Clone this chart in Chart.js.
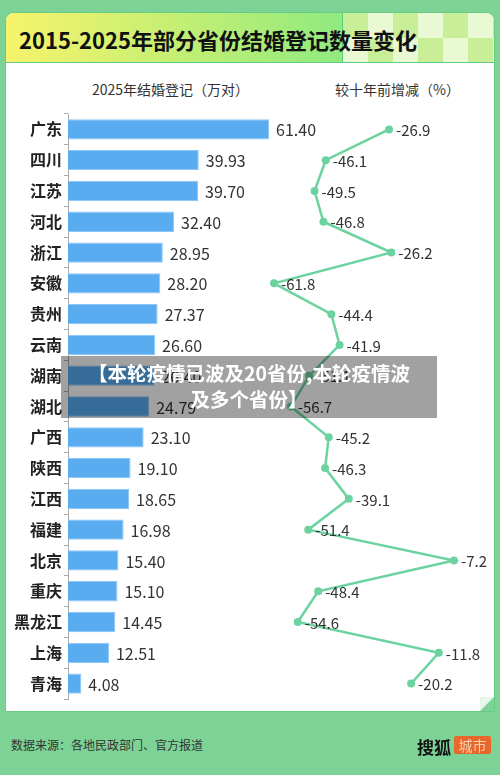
<!DOCTYPE html>
<html>
<head>
<meta charset="utf-8">
<script src="https://cdn.jsdelivr.net/npm/chart.js@4.4.1/dist/chart.umd.min.js"></script>
<style>
  html, body { margin:0; padding:0; }
  body { width:500px; height:775px; background:#7dd396; position:relative; overflow:hidden;
         font-family:"Noto Sans CJK SC","Noto Sans",sans-serif; }
  #card { position:absolute; left:5px; top:12px; width:488px; height:698px; background:#fff;
          border:1px solid #66cc82; border-radius:9px 9px 0 0; overflow:hidden; }
  #header { position:absolute; left:0; top:0; width:488px; height:49px;
            background:linear-gradient(90deg,#f7f36c 0%,#c4ef73 35%,#8eea80 70%,#62e38b 100%);
            border-bottom:1px solid #66cc82; }
  #checks { position:absolute; left:336px; top:0; width:152px; height:49px; border-left:1px solid #5ccf7e;
            background-color:#e9f9d4;
            background-image:
              linear-gradient(45deg,#c9ee98 25%,transparent 25%,transparent 75%,#c9ee98 75%),
              linear-gradient(45deg,#c9ee98 25%,transparent 25%,transparent 75%,#c9ee98 75%);
            background-size:50px 50px; background-position:25px 0, 50px 25px; }
  #title { position:absolute; left:13px; top:10px; font-size:22px; font-weight:bold; color:#111; letter-spacing:0; }
  .sub { position:absolute; top:79px; font-size:14px; color:#333; }
  #chartbox { position:absolute; left:0; top:100px; width:500px; height:612px; }
  #overlay { position:absolute; left:61px; top:356px; width:376px; height:62px; background:rgba(0,0,0,0.37);
             color:#fff; font-weight:bold; font-size:19.5px; line-height:26px; text-align:center; padding-top:4px; box-sizing:border-box; white-space:nowrap; }
  #fold { position:absolute; left:480px; top:697px; width:0; height:0;
          border-left:14px solid transparent; border-bottom:14px solid #7dd396; }
  #fold2 { position:absolute; left:480px; top:697px; width:0; height:0;
          border-right:14px solid transparent; border-top:14px solid #e6f6ea; }
  #source { position:absolute; left:11px; top:736px; font-size:12px; color:#333; }
  #sohu { position:absolute; left:417px; top:734px; font-size:17px; color:#111; font-weight:bold; font-family:"Noto Sans CJK SC",serif; }
  #city { position:absolute; left:454px; top:736px; width:37px; height:18px; background:#e8672a; border-radius:2px;
          color:#f6cfae; font-size:14px; line-height:18px; text-align:center; }
</style>
</head>
<body>
<div id="card">
  <div id="header"><div id="checks"></div><div id="title">2015-2025年部分省份结婚登记数量变化</div></div>
</div>
<div class="sub" style="left:92px;">2025年结婚登记（万对）</div>
<div class="sub" style="left:335px;">较十年前增减（%）</div>
<div id="chartbox"><canvas id="c" width="500" height="612"></canvas></div>
<div id="fold2"></div><div id="fold"></div>
<div id="overlay">【本轮疫情已波及20省份,本轮疫情波<br>及多个省份】</div>
<div id="source">数据来源：各地民政部门、官方报道</div>
<div id="sohu">搜狐</div>
<div id="city">城市</div>
<script>
const provinces = ["广东","四川","江苏","河北","浙江","安徽","贵州","云南","湖南","湖北","广西","陕西","江西","福建","北京","重庆","黑龙江","上海","青海"];
const marriages2025 = [61.40,39.93,39.70,32.40,28.95,28.20,27.37,26.60,26.40,24.79,23.10,19.10,18.65,16.98,15.40,15.10,14.45,12.51,4.08];
const changeVsTenYearsAgo = [-26.9,-46.1,-49.5,-46.8,-26.2,-61.8,-44.4,-41.9,-51.1,-56.7,-45.2,-46.3,-39.1,-51.4,-7.2,-48.4,-54.6,-11.8,-20.2];

const labelPlugin = {
  id:'valueLabels',
  afterDatasetsDraw(chart){
    const ctx = chart.ctx;
    ctx.save();
    ctx.textBaseline = 'middle';
    ctx.textAlign = 'left';
    chart.getDatasetMeta(0).data.forEach((el,i)=>{
      ctx.font = '16px "Noto Sans CJK SC", sans-serif';
      ctx.fillStyle = '#333';
      ctx.fillText(marriages2025[i].toFixed(2), el.x + 7, el.y + 1);
    });
    chart.getDatasetMeta(1).data.forEach((el,i)=>{
      ctx.font = '15px "Noto Sans CJK SC", sans-serif';
      ctx.fillStyle = '#333';
      ctx.fillText(changeVsTenYearsAgo[i].toFixed(1), el.x + 7, el.y + 1);
    });
    ctx.restore();
  }
};

new Chart(document.getElementById('c'), {
  type:'bar',
  data:{
    labels: provinces,
    datasets:[
      { type:'bar', data: marriages2025, xAxisID:'x', yAxisID:'y',
        backgroundColor:'#5aacf1', borderColor:'#8cc6f5', borderWidth:1,
        barPercentage:0.66, categoryPercentage:1.0, order:2 },
      { type:'line', data: changeVsTenYearsAgo, xAxisID:'x2', yAxisID:'y',
        borderColor:'#6cd3a0', backgroundColor:'#6cd3a0', borderWidth:2.5,
        pointRadius:4, pointHoverRadius:4, pointBackgroundColor:'#6cd3a0', pointBorderWidth:0,
        tension:0, order:1 }
    ]
  },
  options:{
    indexAxis:'y',
    responsive:false,
    animation:false,
    events:[],
    layout:{ padding:{ left:0, top:14, right:20, bottom:13 } },
    plugins:{ legend:{display:false}, tooltip:{enabled:false} },
    scales:{
      x:{ type:'linear', display:false, min:0, max:125.8 },
      x2:{ type:'linear', display:false, min:-124.3, max:0.7 },
      y:{
        type:'category', position:'left', offset:true,
        afterFit(scale){ scale.width = 68; },
        grid:{ drawOnChartArea:false, drawTicks:true, tickLength:4, color:'#aaa' },
        border:{ display:true, color:'#aaa', width:1 },
        ticks:{ color:'#222', padding:2, font:{ size:16, weight:'bold', family:'"Noto Sans CJK SC", sans-serif' } }
      }
    }
  },
  plugins:[labelPlugin]
});
</script>
</body>
</html>
